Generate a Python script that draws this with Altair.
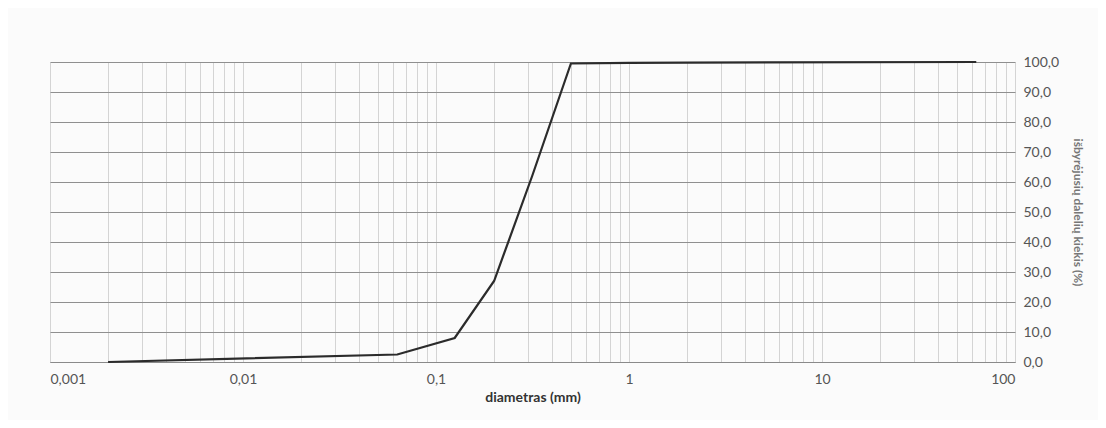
import altair as alt
import pandas as pd

# Grain-size curve
diam = [0.002, 0.063, 0.125, 0.2, 0.315, 0.5, 1.0, 2.0, 63.0]
passing = [0.0, 2.5, 8.0, 27.0, 62.0, 99.5, 99.7, 99.8, 100.0]

grid_x = [m * 10 ** e for e in range(-3, 2) for m in range(1, 10)] + [100]
y_ticks = [0, 10, 20, 30, 40, 50, 60, 70, 80, 90, 100]

df = pd.DataFrame({"d": diam, "p": passing})
font = "Lato"

line = alt.Chart(df).mark_line(color="#2b2b2b", strokeWidth=2.2).encode(
    x=alt.X(
        "d:Q",
        scale=alt.Scale(type="log", domain=[0.001, 100], nice=False),
        axis=alt.Axis(
            values=grid_x,
            labelExpr="abs(log(datum.value)/log(10) - round(log(datum.value)/log(10))) < 0.001 ? replace(format(datum.value, '~g'), '.', ',') : ''",
            title="diametras (mm)",
            titleFont=font, titleFontSize=14, titleFontWeight="bold", titleColor="#333333",
            titlePadding=4,
            labelFont=font, labelFontSize=14, labelColor="#555555", labelPadding=10,
            grid=True, gridColor="#d4d4d4", gridWidth=1,
            domain=True, domainColor="#8a8a8a", ticks=False, labelOverlap=False,
        ),
    ),
    y=alt.Y(
        "p:Q",
        scale=alt.Scale(domain=[0, 100], nice=False),
        axis=alt.Axis(
            orient="right", values=y_ticks,
            labelExpr="replace(format(datum.value, '.1f'), '.', ',')",
            title="išbyrėjusių dalelių kiekis (%)",
            titleFont=font, titleFontSize=12, titleColor="#777777", titlePadding=12,
            labelFont=font, labelFontSize=14, labelColor="#555555", labelPadding=8,
            grid=True, gridColor="#8f8f8f", gridWidth=1,
            domain=False, ticks=False,
        ),
    ),
)

chart = line.properties(
    width=965, height=300,
    autosize=alt.AutoSizeParams(type="none"),
    padding={"left": 42, "top": 54, "right": 83, "bottom": 58},
    background="#fbfbfb",
).configure_view(stroke=None)

chart.save("out.html", embed_options={"renderer": "svg", "actions": False})
